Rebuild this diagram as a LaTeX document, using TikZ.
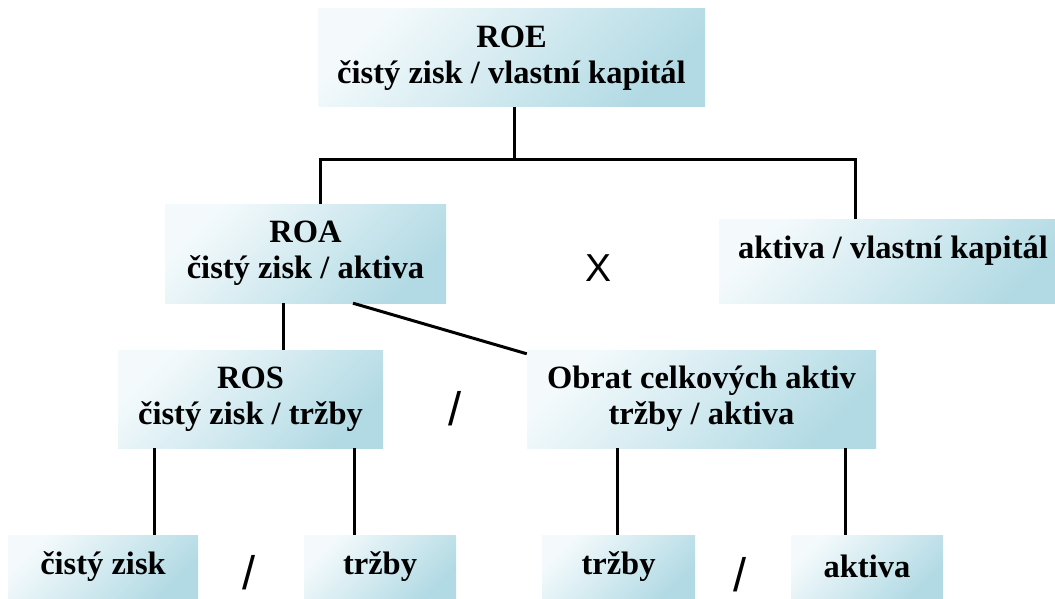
\documentclass[tikz,border=0pt]{standalone}
\usepackage{fontspec}
\setmainfont{Liberation Serif}
\newfontfamily\opfont{Liberation Sans}
\usetikzlibrary{calc}
\definecolor{boxlight}{RGB}{244,250,252}
\definecolor{boxdark}{RGB}{178,218,228}
\tikzset{
  ratio/.style={shading=axis, top color=boxlight, bottom color=boxdark,
    shading angle=45, inner sep=0pt, align=center,
    font=\bfseries\fontsize{32.5}{36}\selectfont},
  link/.style={line width=3pt, black},
  operator/.style={inner sep=0pt, font=\opfont\fontsize{39}{40}\selectfont},
  divider/.style={inner sep=0pt, font=\opfont\fontsize{47}{48}\selectfont}
}
\begin{document}
\begin{tikzpicture}[x=1pt, y=-1pt]
  \useasboundingbox (0,0) rectangle (1055,599);

  % ratio boxes
  \node[ratio, minimum width=387pt, minimum height=98pt] (roe) at (511.5,58)
    {ROE\\čistý zisk / vlastní kapitál};
  \node[ratio, minimum width=281pt, minimum height=99pt] (roa) at (305.5,253.5)
    {ROA\\čistý zisk / aktiva};
  \node[ratio, minimum width=348pt, minimum height=84pt, text depth=28pt] (akvk) at (893,261)
    {aktiva / vlastní kapitál};
  \node[ratio, minimum width=265pt, minimum height=98pt] (ros) at (250.5,399)
    {ROS\\čistý zisk / tržby};
  \node[ratio, minimum width=349pt, minimum height=98pt] (obrat) at (701.5,399)
    {Obrat celkových aktiv\\tržby / aktiva};
  \node[ratio, minimum width=190pt, minimum height=63pt] (czisk) at (103,566.5) {čistý zisk};
  \node[ratio, minimum width=152pt, minimum height=63pt] (trzbyA) at (380,566.5) {tržby};
  \node[ratio, minimum width=153pt, minimum height=63pt] (trzbyB) at (618.5,566.5) {tržby};
  \node[ratio, minimum width=152pt, minimum height=63pt] (aktiva) at (867,566.5) {aktiva};

  % operators between the boxes
  \node[operator] (opx) at (598,268) {X};
  \node[divider] (opdivA) at (455,409) {/};
  \node[divider] (opdivB) at (249,573) {/};
  \node[divider] (opdivC) at (740,575) {/};

  % branch points of the connectors
  \coordinate (junction) at (514,160);
  \coordinate (branchL) at (320,160);
  \coordinate (branchR) at (855,160);
  \coordinate (xroa) at (283,0);
  \coordinate (xroaB) at (353,0);
  \coordinate (xrosL) at (154,0);
  \coordinate (xrosR) at (354,0);
  \coordinate (xobL) at (617,0);
  \coordinate (xobR) at (845,0);

  % connectors
  \draw[link] (roe.south -| junction) -- (junction);
  \draw[link] (roa.north -| branchL) -- (branchL) -- (branchR) -- (akvk.north -| branchR);
  \draw[link] (roa.south -| xroa) -- (ros.north -| xroa);
  \draw[link] (roa.south -| xroaB) -- ($(obrat.north west)+(0,4)$);
  \draw[link] (ros.south -| xrosL) -- (czisk.north -| xrosL);
  \draw[link] (ros.south -| xrosR) -- (trzbyA.north -| xrosR);
  \draw[link] (obrat.south -| xobL) -- (trzbyB.north -| xobL);
  \draw[link] (obrat.south -| xobR) -- (aktiva.north -| xobR);
\end{tikzpicture}
\end{document}
